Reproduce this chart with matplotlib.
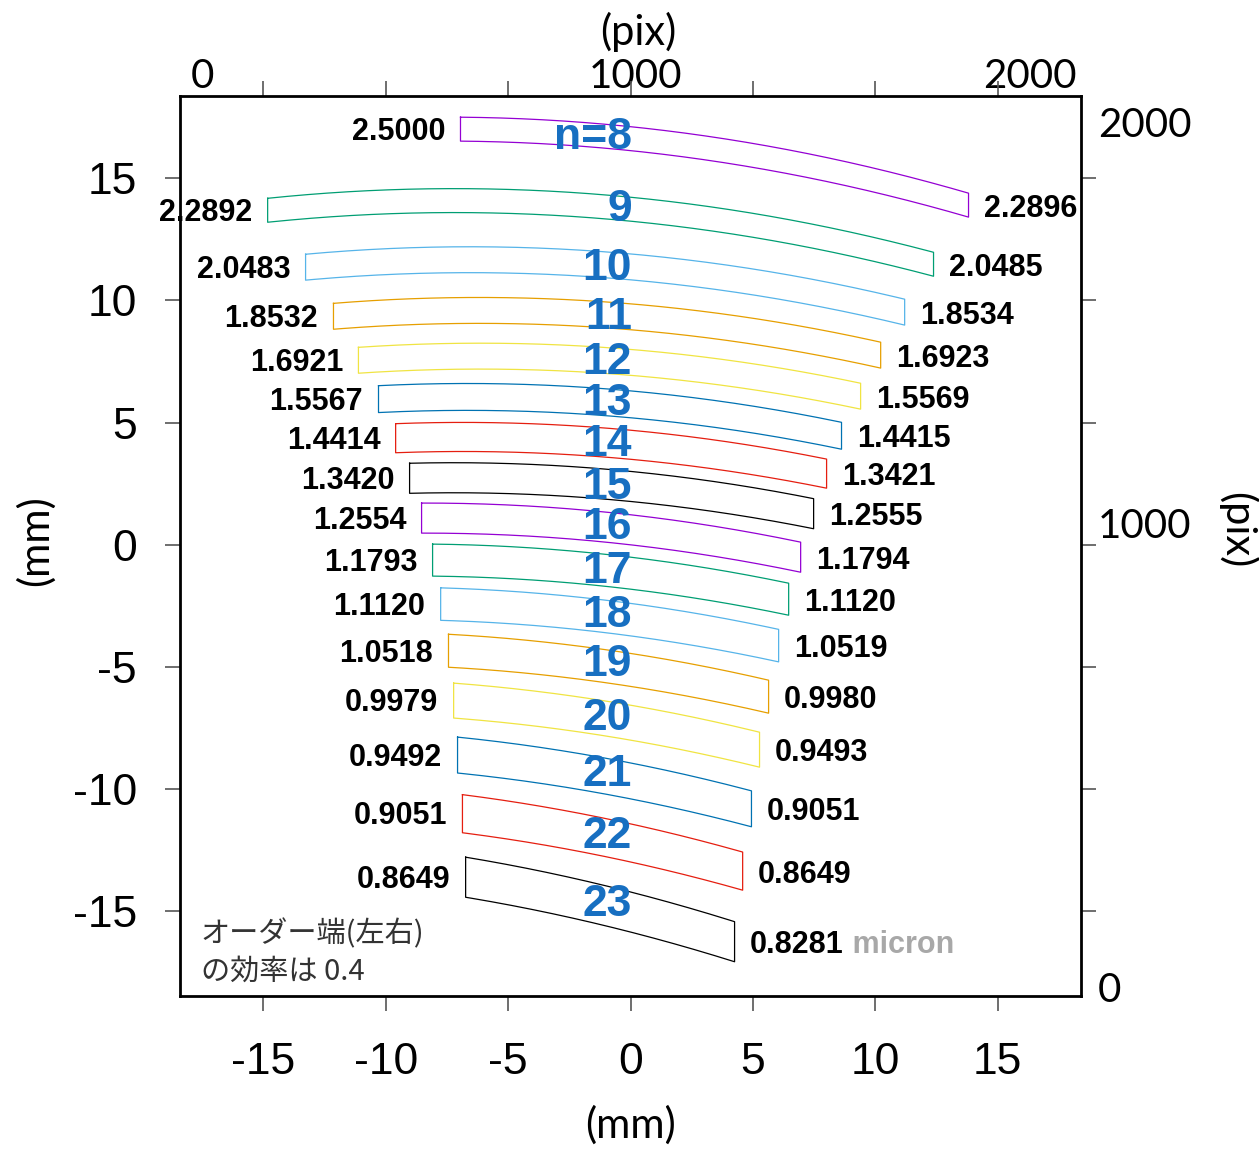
#!/usr/bin/env python3

import numpy as np
import matplotlib as mpl
import matplotlib.pyplot as plt

#~~~~~~~~~~~~ Input ~~~~~~~~~~~~~~~~~~~~~~~

orders = [8, 9, 10, 11, 12, 13, 14, 15, 16, 17, 18, 19, 20, 21, 22, 23]

# order ends on the detector (mm): x of left/right end, centre y at each end
x_left  = [-6.95, -14.83, -13.28, -12.14, -11.12, -10.30, -9.60, -9.03,
           -8.54, -8.09, -7.76, -7.44, -7.23, -7.07, -6.87, -6.74]
x_right = [13.81, 12.38, 11.20, 10.22, 9.40, 8.62, 8.01, 7.48,
           6.95, 6.46, 6.05, 5.64, 5.27, 4.94, 4.58, 4.25]
y_left  = [17.01, 13.69, 11.36, 9.35, 7.55, 5.96, 4.36, 2.72,
           1.09, -0.63, -2.43, -4.34, -6.38, -8.61, -11.01, -13.61]
y_right = [13.90, 11.48, 9.52, 7.76, 6.08, 4.46, 2.91, 1.27,
           -0.51, -2.23, -4.13, -6.22, -8.39, -10.81, -13.36, -16.25]
height  = [0.98, 0.98, 1.06, 1.06, 1.06, 1.10, 1.19, 1.23,
           1.23, 1.31, 1.33, 1.35, 1.43, 1.47, 1.56, 1.64]
bow = 0.0068     # bulge of the orders (mm / mm^2)

# wavelength at order ends (micron)
wl_left  = ['2.5000', '2.2892', '2.0483', '1.8532', '1.6921', '1.5567', '1.4414', '1.3420',
            '1.2554', '1.1793', '1.1120', '1.0518', '0.9979', '0.9492', '0.9051', '0.8649']
wl_right = ['2.2896', '2.0485', '1.8534', '1.6923', '1.5569', '1.4415', '1.3421', '1.2555',
            '1.1794', '1.1120', '1.0519', '0.9980', '0.9493', '0.9051', '0.8649', '0.8281']

# y of the order number labels (mm)
num_y = [16.68, 13.73, 11.32, 9.31, 7.47, 5.79, 4.11, 2.35,
         0.72, -1.08, -2.88, -4.89, -7.10, -9.39, -11.93, -14.71]

# detector pixel scale: where 0/1000/2000 pix sit in mm
pix_labels = ['0', '1000', '2000']
pix_top_mm = [-17.51, 0.22, 16.33]
pix_right_mm = [-18.11, 0.90, 17.29]

# gnuplot default line colours
colors = ['#9400d3', '#009e73', '#56b4e9', '#e69f00', '#f0e442', '#0072b2', '#e51e10', '#000000']

#~~~~~~~~~~~~~~~~~~~~~~~~~~~~~~~~~~~~~~~~~~~

plt.rcParams['font.family'] = ['Liberation Sans', 'Noto Sans CJK JP', 'DejaVu Sans']
plt.rcParams['axes.unicode_minus'] = False

fig = plt.figure(figsize=(12.59, 11.49), dpi=100)
ax = fig.add_axes([0.143, 0.1332, 0.7157, 0.7833])
ax.set_xlim(-18.41, 18.41)
ax.set_ylim(-18.47, 18.37)

for i, n in enumerate(orders):
	xl, xr = x_left[i], x_right[i]
	xs = np.linspace(xl, xr, 200)
	yc = y_left[i] + (y_right[i] - y_left[i]) * (xs - xl) / (xr - xl) + bow * (xs - xl) * (xr - xs)
	top = yc + height[i] / 2
	bot = yc - height[i] / 2
	px = np.concatenate([xs, xs[::-1], xs[:1]])
	py = np.concatenate([top, bot[::-1], top[:1]])
	ax.plot(px, py, color=colors[i % 8], lw=0.9)

	ax.annotate(wl_left[i], (xl, y_left[i]), xytext=(-11, -2), textcoords='offset points',
	            ha='right', va='center', fontsize=22, fontweight='bold')
	t = ax.annotate(wl_right[i], (xr, y_right[i]), xytext=(11, -2.5), textcoords='offset points',
	                ha='left', va='center', fontsize=22, fontweight='bold')

	lab = 'n=%d' % n if i == 0 else str(n)
	ax.text(0.05, num_y[i], lab, ha='right', va='center', fontsize=32,
	        fontweight='bold', color='#176fc1', zorder=5)

# unit after the last wavelength
ax.annotate(' micron', xy=(1, 0.5), xycoords=t, ha='left', va='center',
            fontsize=22, fontweight='bold', color='#a8a8a8')

ax.text(-17.57, -16.70, 'オーダー端(左右)\nの効率は 0.4', ha='left', va='center',
        fontsize=21, family=['Noto Sans CJK JP'], color='#333333', linespacing=1.3)

# mm axes
ax.set_xticks(np.arange(-15, 16, 5))
ax.set_yticks(np.arange(-15, 16, 5))
ax.tick_params(direction='out', length=11, width=1.2, color='#555555',
               top=True, right=True, labelsize=32)
ax.tick_params(axis='x', pad=22)
ax.tick_params(axis='y', pad=20)
for s in ax.spines.values():
	s.set_linewidth(2.0)

ax.set_xlabel('(mm)', family='Lato', fontsize=30, va='center', ha='center')
ax.xaxis.set_label_coords(0.5, -0.143)
ax.set_ylabel('(mm)', family='Lato', fontsize=30, va='center', ha='center')
ax.yaxis.set_label_coords(-0.161, 0.506)

# pix scale (top, right)
secx = ax.secondary_xaxis('top')
secx.set_xticks(pix_top_mm, labels=pix_labels)
secx.tick_params(length=0, pad=1, labelsize=29, labelfontfamily='Lato')

secy = ax.secondary_yaxis('right')
secy.set_yticks(pix_right_mm, labels=pix_labels)
secy.tick_params(length=0, pad=12, labelsize=29, labelfontfamily='Lato')

for sa in (secx, secy):
	for s in sa.spines.values():
		s.set_visible(False)

ax.text(0.508, 1.071, '(pix)', transform=ax.transAxes, family='Lato', fontsize=30,
        ha='center', va='center')
ax.text(1.173, 0.518, '(pix)', transform=ax.transAxes, family='Lato', fontsize=30,
        rotation=-90, ha='center', va='center')

plt.savefig('out.png', dpi=100)
